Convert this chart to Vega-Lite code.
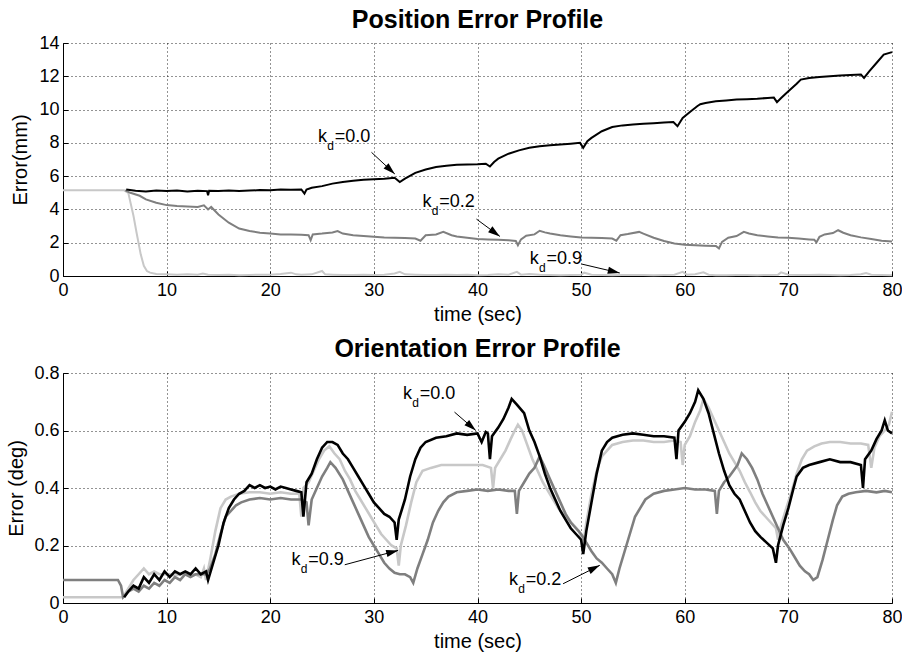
{
"$schema": "https://vega.github.io/schema/vega-lite/v6.json",
"padding": {"left": 6, "top": 8, "right": 10, "bottom": 2},
"background": "white",
"config": {
  "font": "Liberation Sans",
  "view": {"stroke": null},
  "axis": {"domainColor": "#000", "domainWidth": 1, "tickColor": "#000", "tickSize": -5, "labelColor": "#000", "labelFontSize": 18, "titleColor": "#000", "titleFontSize": 20, "titleFontWeight": "normal", "gridColor": "#000", "gridDash": [1, 3], "gridOpacity": 0.85, "gridWidth": 1, "labelFlush": false, "labelOverlap": false},
  "axisX": {"labelPadding": 10, "titlePadding": 5},
  "axisY": {"labelPadding": 9},
  "title": {"fontSize": 25, "fontWeight": "bold", "color": "#000", "baseline": "alphabetic", "frame": "group", "anchor": "middle"}
},
"datasets": {
  "pos": [
{"k":"0.0","t":6.1,"e":5.2},{"k":"0.0","t":7,"e":5.12},{"k":"0.0","t":8,"e":5.08},{"k":"0.0","t":9,"e":5.14},{"k":"0.0","t":10,"e":5.1},{"k":"0.0","t":11,"e":5.13},{"k":"0.0","t":12,"e":5.08},{"k":"0.0","t":13,"e":5.12},{"k":"0.0","t":13.9,"e":5.1},{"k":"0.0","t":14.0,"e":4.85},{"k":"0.0","t":14.1,"e":5.12},{"k":"0.0","t":15,"e":5.1},{"k":"0.0","t":16,"e":5.14},{"k":"0.0","t":17,"e":5.1},{"k":"0.0","t":18,"e":5.13},{"k":"0.0","t":19,"e":5.16},{"k":"0.0","t":20,"e":5.15},{"k":"0.0","t":21,"e":5.2},{"k":"0.0","t":22,"e":5.18},{"k":"0.0","t":23,"e":5.2},{"k":"0.0","t":23.3,"e":4.95},{"k":"0.0","t":23.5,"e":5.2},{"k":"0.0","t":24,"e":5.3},{"k":"0.0","t":25,"e":5.4},{"k":"0.0","t":26,"e":5.55},{"k":"0.0","t":27,"e":5.65},{"k":"0.0","t":28,"e":5.72},{"k":"0.0","t":29,"e":5.78},{"k":"0.0","t":30,"e":5.82},{"k":"0.0","t":31,"e":5.85},{"k":"0.0","t":32,"e":5.9},{"k":"0.0","t":32.5,"e":5.65},{"k":"0.0","t":33,"e":5.85},{"k":"0.0","t":34,"e":6.2},{"k":"0.0","t":35,"e":6.4},{"k":"0.0","t":36,"e":6.55},{"k":"0.0","t":37,"e":6.62},{"k":"0.0","t":38,"e":6.68},{"k":"0.0","t":39,"e":6.7},{"k":"0.0","t":40,"e":6.72},{"k":"0.0","t":40.8,"e":6.75},{"k":"0.0","t":41.2,"e":6.58},{"k":"0.0","t":41.6,"e":6.85},{"k":"0.0","t":42,"e":7.05},{"k":"0.0","t":43,"e":7.35},{"k":"0.0","t":44,"e":7.55},{"k":"0.0","t":45,"e":7.7},{"k":"0.0","t":46,"e":7.8},{"k":"0.0","t":47,"e":7.85},{"k":"0.0","t":48,"e":7.9},{"k":"0.0","t":49,"e":7.95},{"k":"0.0","t":49.9,"e":8.0},{"k":"0.0","t":50.2,"e":7.7},{"k":"0.0","t":50.6,"e":8.1},{"k":"0.0","t":51,"e":8.3},{"k":"0.0","t":52,"e":8.7},{"k":"0.0","t":53,"e":8.95},{"k":"0.0","t":54,"e":9.05},{"k":"0.0","t":55,"e":9.1},{"k":"0.0","t":56,"e":9.15},{"k":"0.0","t":57,"e":9.18},{"k":"0.0","t":58,"e":9.22},{"k":"0.0","t":58.9,"e":9.25},{"k":"0.0","t":59.3,"e":9.0},{"k":"0.0","t":59.8,"e":9.5},{"k":"0.0","t":60.5,"e":9.85},{"k":"0.0","t":61.2,"e":10.2},{"k":"0.0","t":61.5,"e":10.32},{"k":"0.0","t":62,"e":10.4},{"k":"0.0","t":63,"e":10.5},{"k":"0.0","t":64,"e":10.55},{"k":"0.0","t":65,"e":10.6},{"k":"0.0","t":66,"e":10.62},{"k":"0.0","t":67,"e":10.65},{"k":"0.0","t":68,"e":10.7},{"k":"0.0","t":68.6,"e":10.72},{"k":"0.0","t":68.9,"e":10.45},{"k":"0.0","t":69.3,"e":10.7},{"k":"0.0","t":70,"e":11.1},{"k":"0.0","t":70.8,"e":11.55},{"k":"0.0","t":71.2,"e":11.8},{"k":"0.0","t":72,"e":11.9},{"k":"0.0","t":73,"e":11.95},{"k":"0.0","t":74,"e":12.0},{"k":"0.0","t":75,"e":12.05},{"k":"0.0","t":76,"e":12.08},{"k":"0.0","t":77,"e":12.1},{"k":"0.0","t":77.3,"e":11.9},{"k":"0.0","t":77.8,"e":12.3},{"k":"0.0","t":78.5,"e":12.8},{"k":"0.0","t":79.2,"e":13.3},{"k":"0.0","t":80,"e":13.45},
{"k":"0.2","t":6.0,"e":5.15},{"k":"0.2","t":6.5,"e":5.0},{"k":"0.2","t":7.4,"e":4.82},{"k":"0.2","t":8,"e":4.6},{"k":"0.2","t":9,"e":4.4},{"k":"0.2","t":10,"e":4.26},{"k":"0.2","t":11,"e":4.2},{"k":"0.2","t":12,"e":4.18},{"k":"0.2","t":13,"e":4.15},{"k":"0.2","t":13.6,"e":4.25},{"k":"0.2","t":14,"e":4.0},{"k":"0.2","t":14.3,"e":4.15},{"k":"0.2","t":15,"e":3.7},{"k":"0.2","t":16,"e":3.2},{"k":"0.2","t":17,"e":2.85},{"k":"0.2","t":18,"e":2.7},{"k":"0.2","t":19,"e":2.6},{"k":"0.2","t":20,"e":2.55},{"k":"0.2","t":21,"e":2.5},{"k":"0.2","t":22,"e":2.5},{"k":"0.2","t":23,"e":2.48},{"k":"0.2","t":23.7,"e":2.45},{"k":"0.2","t":23.9,"e":2.15},{"k":"0.2","t":24.1,"e":2.5},{"k":"0.2","t":25,"e":2.55},{"k":"0.2","t":26,"e":2.62},{"k":"0.2","t":26.5,"e":2.7},{"k":"0.2","t":27,"e":2.55},{"k":"0.2","t":28,"e":2.45},{"k":"0.2","t":29,"e":2.4},{"k":"0.2","t":30,"e":2.36},{"k":"0.2","t":31,"e":2.32},{"k":"0.2","t":32,"e":2.3},{"k":"0.2","t":33,"e":2.28},{"k":"0.2","t":34,"e":2.25},{"k":"0.2","t":34.5,"e":2.12},{"k":"0.2","t":35,"e":2.45},{"k":"0.2","t":36,"e":2.5},{"k":"0.2","t":36.7,"e":2.65},{"k":"0.2","t":37.5,"e":2.45},{"k":"0.2","t":38,"e":2.38},{"k":"0.2","t":39,"e":2.3},{"k":"0.2","t":40,"e":2.22},{"k":"0.2","t":41,"e":2.2},{"k":"0.2","t":42,"e":2.18},{"k":"0.2","t":43,"e":2.15},{"k":"0.2","t":43.7,"e":2.1},{"k":"0.2","t":43.9,"e":1.85},{"k":"0.2","t":44.2,"e":2.2},{"k":"0.2","t":44.7,"e":2.42},{"k":"0.2","t":45.5,"e":2.5},{"k":"0.2","t":46,"e":2.72},{"k":"0.2","t":46.5,"e":2.62},{"k":"0.2","t":47,"e":2.55},{"k":"0.2","t":48,"e":2.45},{"k":"0.2","t":49,"e":2.38},{"k":"0.2","t":50,"e":2.32},{"k":"0.2","t":51,"e":2.3},{"k":"0.2","t":52,"e":2.28},{"k":"0.2","t":53,"e":2.25},{"k":"0.2","t":53.4,"e":2.12},{"k":"0.2","t":53.8,"e":2.45},{"k":"0.2","t":54.5,"e":2.52},{"k":"0.2","t":55.6,"e":2.65},{"k":"0.2","t":56,"e":2.55},{"k":"0.2","t":57,"e":2.3},{"k":"0.2","t":58,"e":2.1},{"k":"0.2","t":59,"e":1.95},{"k":"0.2","t":60,"e":1.88},{"k":"0.2","t":61,"e":1.85},{"k":"0.2","t":62,"e":1.82},{"k":"0.2","t":63,"e":1.8},{"k":"0.2","t":63.3,"e":1.66},{"k":"0.2","t":63.6,"e":2.05},{"k":"0.2","t":64.2,"e":2.3},{"k":"0.2","t":65,"e":2.4},{"k":"0.2","t":65.7,"e":2.65},{"k":"0.2","t":66.2,"e":2.55},{"k":"0.2","t":67,"e":2.45},{"k":"0.2","t":68,"e":2.38},{"k":"0.2","t":69,"e":2.32},{"k":"0.2","t":70,"e":2.3},{"k":"0.2","t":71,"e":2.25},{"k":"0.2","t":72,"e":2.2},{"k":"0.2","t":72.5,"e":2.18},{"k":"0.2","t":72.7,"e":2.02},{"k":"0.2","t":73,"e":2.35},{"k":"0.2","t":73.5,"e":2.5},{"k":"0.2","t":74.3,"e":2.58},{"k":"0.2","t":74.8,"e":2.75},{"k":"0.2","t":75.3,"e":2.6},{"k":"0.2","t":76,"e":2.45},{"k":"0.2","t":77,"e":2.32},{"k":"0.2","t":78,"e":2.22},{"k":"0.2","t":79,"e":2.12},{"k":"0.2","t":80,"e":2.08},
{"k":"0.9","t":0,"e":5.15},{"k":"0.9","t":5.9,"e":5.15},{"k":"0.9","t":6.3,"e":5.0},{"k":"0.9","t":6.8,"e":3.62},{"k":"0.9","t":7.1,"e":2.6},{"k":"0.9","t":7.5,"e":1.3},{"k":"0.9","t":7.8,"e":0.61},{"k":"0.9","t":8.1,"e":0.3},{"k":"0.9","t":8.4,"e":0.2},{"k":"0.9","t":9,"e":0.12},{"k":"0.9","t":10,"e":0.1},{"k":"0.9","t":11,"e":0.08},{"k":"0.9","t":12,"e":0.1},{"k":"0.9","t":13,"e":0.08},{"k":"0.9","t":13.5,"e":0.15},{"k":"0.9","t":14,"e":0.08},{"k":"0.9","t":15,"e":0.06},{"k":"0.9","t":16,"e":0.08},{"k":"0.9","t":17,"e":0.05},{"k":"0.9","t":18,"e":0.06},{"k":"0.9","t":19,"e":0.08},{"k":"0.9","t":20,"e":0.08},{"k":"0.9","t":21,"e":0.12},{"k":"0.9","t":22,"e":0.2},{"k":"0.9","t":22.5,"e":0.1},{"k":"0.9","t":23,"e":0.08},{"k":"0.9","t":24,"e":0.1},{"k":"0.9","t":25,"e":0.3},{"k":"0.9","t":25.3,"e":0.1},{"k":"0.9","t":26,"e":0.08},{"k":"0.9","t":27,"e":0.06},{"k":"0.9","t":28,"e":0.06},{"k":"0.9","t":29,"e":0.08},{"k":"0.9","t":30,"e":0.06},{"k":"0.9","t":31,"e":0.08},{"k":"0.9","t":32,"e":0.15},{"k":"0.9","t":32.5,"e":0.25},{"k":"0.9","t":33,"e":0.1},{"k":"0.9","t":34,"e":0.08},{"k":"0.9","t":35,"e":0.06},{"k":"0.9","t":36,"e":0.06},{"k":"0.9","t":37,"e":0.08},{"k":"0.9","t":38,"e":0.06},{"k":"0.9","t":39,"e":0.08},{"k":"0.9","t":40,"e":0.05},{"k":"0.9","t":41,"e":0.06},{"k":"0.9","t":42,"e":0.1},{"k":"0.9","t":43,"e":0.08},{"k":"0.9","t":43.8,"e":0.25},{"k":"0.9","t":44.2,"e":0.08},{"k":"0.9","t":45,"e":0.12},{"k":"0.9","t":46,"e":0.08},{"k":"0.9","t":47,"e":0.06},{"k":"0.9","t":48,"e":0.05},{"k":"0.9","t":49,"e":0.06},{"k":"0.9","t":50,"e":0.08},{"k":"0.9","t":50.3,"e":0.2},{"k":"0.9","t":51,"e":0.08},{"k":"0.9","t":52,"e":0.06},{"k":"0.9","t":53,"e":0.05},{"k":"0.9","t":54,"e":0.06},{"k":"0.9","t":55,"e":0.06},{"k":"0.9","t":56,"e":0.06},{"k":"0.9","t":57,"e":0.05},{"k":"0.9","t":58,"e":0.06},{"k":"0.9","t":59,"e":0.08},{"k":"0.9","t":59.8,"e":0.25},{"k":"0.9","t":60.2,"e":0.08},{"k":"0.9","t":61,"e":0.1},{"k":"0.9","t":61.8,"e":0.22},{"k":"0.9","t":62.3,"e":0.08},{"k":"0.9","t":63,"e":0.05},{"k":"0.9","t":64,"e":0.05},{"k":"0.9","t":65,"e":0.06},{"k":"0.9","t":66,"e":0.06},{"k":"0.9","t":67,"e":0.05},{"k":"0.9","t":68,"e":0.06},{"k":"0.9","t":69,"e":0.08},{"k":"0.9","t":69.3,"e":0.22},{"k":"0.9","t":70,"e":0.08},{"k":"0.9","t":71,"e":0.06},{"k":"0.9","t":72,"e":0.06},{"k":"0.9","t":73,"e":0.08},{"k":"0.9","t":74,"e":0.06},{"k":"0.9","t":75,"e":0.05},{"k":"0.9","t":76,"e":0.06},{"k":"0.9","t":77,"e":0.1},{"k":"0.9","t":77.5,"e":0.18},{"k":"0.9","t":78,"e":0.08},{"k":"0.9","t":79,"e":0.06},{"k":"0.9","t":80,"e":0.05}
  ],
  "ori": [
{"k":"0.0","t":5.9,"e":0.02},{"k":"0.0","t":6.3,"e":0.04},{"k":"0.0","t":6.8,"e":0.06},{"k":"0.0","t":7.3,"e":0.05},{"k":"0.0","t":7.8,"e":0.09},{"k":"0.0","t":8.3,"e":0.07},{"k":"0.0","t":8.8,"e":0.1},{"k":"0.0","t":9.3,"e":0.08},{"k":"0.0","t":9.8,"e":0.11},{"k":"0.0","t":10.3,"e":0.09},{"k":"0.0","t":10.8,"e":0.11},{"k":"0.0","t":11.3,"e":0.1},{"k":"0.0","t":11.8,"e":0.11},{"k":"0.0","t":12.3,"e":0.1},{"k":"0.0","t":12.8,"e":0.12},{"k":"0.0","t":13.3,"e":0.1},{"k":"0.0","t":13.8,"e":0.11},{"k":"0.0","t":14.0,"e":0.08},{"k":"0.0","t":14.5,"e":0.14},{"k":"0.0","t":15,"e":0.2},{"k":"0.0","t":15.5,"e":0.28},{"k":"0.0","t":16,"e":0.33},{"k":"0.0","t":16.5,"e":0.36},{"k":"0.0","t":17,"e":0.38},{"k":"0.0","t":17.5,"e":0.39},{"k":"0.0","t":18,"e":0.41},{"k":"0.0","t":18.5,"e":0.4},{"k":"0.0","t":19,"e":0.41},{"k":"0.0","t":19.5,"e":0.4},{"k":"0.0","t":20,"e":0.405},{"k":"0.0","t":20.5,"e":0.395},{"k":"0.0","t":21,"e":0.405},{"k":"0.0","t":21.5,"e":0.4},{"k":"0.0","t":22,"e":0.395},{"k":"0.0","t":22.5,"e":0.39},{"k":"0.0","t":23,"e":0.385},{"k":"0.0","t":23.2,"e":0.3},{"k":"0.0","t":23.5,"e":0.42},{"k":"0.0","t":24,"e":0.45},{"k":"0.0","t":24.5,"e":0.5},{"k":"0.0","t":25,"e":0.54},{"k":"0.0","t":25.5,"e":0.56},{"k":"0.0","t":26,"e":0.56},{"k":"0.0","t":26.5,"e":0.55},{"k":"0.0","t":27,"e":0.52},{"k":"0.0","t":27.5,"e":0.5},{"k":"0.0","t":28,"e":0.47},{"k":"0.0","t":28.5,"e":0.44},{"k":"0.0","t":29,"e":0.41},{"k":"0.0","t":29.5,"e":0.38},{"k":"0.0","t":30,"e":0.35},{"k":"0.0","t":30.5,"e":0.33},{"k":"0.0","t":31,"e":0.31},{"k":"0.0","t":31.5,"e":0.3},{"k":"0.0","t":32,"e":0.28},{"k":"0.0","t":32.2,"e":0.22},{"k":"0.0","t":32.4,"e":0.29},{"k":"0.0","t":33,"e":0.36},{"k":"0.0","t":33.5,"e":0.44},{"k":"0.0","t":34,"e":0.5},{"k":"0.0","t":34.5,"e":0.54},{"k":"0.0","t":35,"e":0.56},{"k":"0.0","t":36,"e":0.575},{"k":"0.0","t":37,"e":0.58},{"k":"0.0","t":38,"e":0.59},{"k":"0.0","t":39,"e":0.585},{"k":"0.0","t":40,"e":0.59},{"k":"0.0","t":40.4,"e":0.56},{"k":"0.0","t":40.8,"e":0.595},{"k":"0.0","t":41.0,"e":0.59},{"k":"0.0","t":41.2,"e":0.5},{"k":"0.0","t":41.4,"e":0.58},{"k":"0.0","t":42,"e":0.61},{"k":"0.0","t":42.5,"e":0.64},{"k":"0.0","t":43,"e":0.68},{"k":"0.0","t":43.3,"e":0.71},{"k":"0.0","t":43.8,"e":0.69},{"k":"0.0","t":44.5,"e":0.66},{"k":"0.0","t":45,"e":0.6},{"k":"0.0","t":45.5,"e":0.56},{"k":"0.0","t":46,"e":0.51},{"k":"0.0","t":46.5,"e":0.45},{"k":"0.0","t":47,"e":0.4},{"k":"0.0","t":47.5,"e":0.36},{"k":"0.0","t":48,"e":0.32},{"k":"0.0","t":48.5,"e":0.29},{"k":"0.0","t":49,"e":0.26},{"k":"0.0","t":49.5,"e":0.24},{"k":"0.0","t":50,"e":0.22},{"k":"0.0","t":50.2,"e":0.17},{"k":"0.0","t":50.5,"e":0.25},{"k":"0.0","t":51,"e":0.35},{"k":"0.0","t":51.5,"e":0.45},{"k":"0.0","t":52,"e":0.53},{"k":"0.0","t":52.5,"e":0.56},{"k":"0.0","t":53,"e":0.575},{"k":"0.0","t":54,"e":0.585},{"k":"0.0","t":55,"e":0.59},{"k":"0.0","t":56,"e":0.585},{"k":"0.0","t":57,"e":0.58},{"k":"0.0","t":58,"e":0.58},{"k":"0.0","t":59,"e":0.575},{"k":"0.0","t":59.2,"e":0.5},{"k":"0.0","t":59.4,"e":0.6},{"k":"0.0","t":60,"e":0.63},{"k":"0.0","t":60.5,"e":0.66},{"k":"0.0","t":61,"e":0.7},{"k":"0.0","t":61.3,"e":0.74},{"k":"0.0","t":61.8,"e":0.71},{"k":"0.0","t":62.3,"e":0.66},{"k":"0.0","t":62.8,"e":0.59},{"k":"0.0","t":63.3,"e":0.52},{"k":"0.0","t":63.8,"e":0.46},{"k":"0.0","t":64.3,"e":0.41},{"k":"0.0","t":64.8,"e":0.38},{"k":"0.0","t":65.3,"e":0.36},{"k":"0.0","t":65.8,"e":0.32},{"k":"0.0","t":66.3,"e":0.28},{"k":"0.0","t":66.8,"e":0.25},{"k":"0.0","t":67.3,"e":0.23},{"k":"0.0","t":67.9,"e":0.21},{"k":"0.0","t":68.5,"e":0.19},{"k":"0.0","t":68.8,"e":0.14},{"k":"0.0","t":69.0,"e":0.2},{"k":"0.0","t":69.5,"e":0.27},{"k":"0.0","t":70,"e":0.33},{"k":"0.0","t":70.5,"e":0.4},{"k":"0.0","t":70.8,"e":0.44},{"k":"0.0","t":71.4,"e":0.47},{"k":"0.0","t":72,"e":0.48},{"k":"0.0","t":73,"e":0.49},{"k":"0.0","t":74,"e":0.5},{"k":"0.0","t":75,"e":0.49},{"k":"0.0","t":76,"e":0.49},{"k":"0.0","t":77,"e":0.48},{"k":"0.0","t":77.2,"e":0.4},{"k":"0.0","t":77.4,"e":0.5},{"k":"0.0","t":78,"e":0.53},{"k":"0.0","t":78.5,"e":0.57},{"k":"0.0","t":79,"e":0.6},{"k":"0.0","t":79.3,"e":0.635},{"k":"0.0","t":79.6,"e":0.6},{"k":"0.0","t":80,"e":0.59},
{"k":"0.2","t":0,"e":0.08},{"k":"0.2","t":5.3,"e":0.08},{"k":"0.2","t":5.6,"e":0.06},{"k":"0.2","t":5.8,"e":0.02},{"k":"0.2","t":6.3,"e":0.04},{"k":"0.2","t":6.8,"e":0.05},{"k":"0.2","t":7.3,"e":0.04},{"k":"0.2","t":7.8,"e":0.06},{"k":"0.2","t":8.3,"e":0.05},{"k":"0.2","t":8.8,"e":0.07},{"k":"0.2","t":9.3,"e":0.06},{"k":"0.2","t":9.8,"e":0.08},{"k":"0.2","t":10.3,"e":0.07},{"k":"0.2","t":10.8,"e":0.09},{"k":"0.2","t":11.3,"e":0.08},{"k":"0.2","t":11.8,"e":0.1},{"k":"0.2","t":12.3,"e":0.09},{"k":"0.2","t":12.8,"e":0.1},{"k":"0.2","t":13.3,"e":0.1},{"k":"0.2","t":13.8,"e":0.1},{"k":"0.2","t":14.2,"e":0.12},{"k":"0.2","t":14.7,"e":0.17},{"k":"0.2","t":15.2,"e":0.24},{"k":"0.2","t":15.7,"e":0.3},{"k":"0.2","t":16.2,"e":0.32},{"k":"0.2","t":16.7,"e":0.34},{"k":"0.2","t":17.2,"e":0.35},{"k":"0.2","t":18,"e":0.36},{"k":"0.2","t":19,"e":0.365},{"k":"0.2","t":20,"e":0.36},{"k":"0.2","t":21,"e":0.365},{"k":"0.2","t":22,"e":0.36},{"k":"0.2","t":23,"e":0.36},{"k":"0.2","t":23.5,"e":0.35},{"k":"0.2","t":23.7,"e":0.27},{"k":"0.2","t":24,"e":0.36},{"k":"0.2","t":24.5,"e":0.4},{"k":"0.2","t":25,"e":0.44},{"k":"0.2","t":25.5,"e":0.47},{"k":"0.2","t":25.8,"e":0.49},{"k":"0.2","t":26.3,"e":0.47},{"k":"0.2","t":27,"e":0.43},{"k":"0.2","t":27.5,"e":0.39},{"k":"0.2","t":28,"e":0.35},{"k":"0.2","t":28.5,"e":0.31},{"k":"0.2","t":29,"e":0.27},{"k":"0.2","t":29.5,"e":0.23},{"k":"0.2","t":30,"e":0.2},{"k":"0.2","t":30.5,"e":0.17},{"k":"0.2","t":31,"e":0.14},{"k":"0.2","t":31.5,"e":0.12},{"k":"0.2","t":32,"e":0.105},{"k":"0.2","t":32.5,"e":0.1},{"k":"0.2","t":33,"e":0.1},{"k":"0.2","t":33.5,"e":0.09},{"k":"0.2","t":33.8,"e":0.07},{"k":"0.2","t":34.2,"e":0.12},{"k":"0.2","t":34.7,"e":0.17},{"k":"0.2","t":35.2,"e":0.22},{"k":"0.2","t":35.7,"e":0.28},{"k":"0.2","t":36.2,"e":0.32},{"k":"0.2","t":36.7,"e":0.35},{"k":"0.2","t":37.2,"e":0.37},{"k":"0.2","t":38,"e":0.385},{"k":"0.2","t":39,"e":0.39},{"k":"0.2","t":40,"e":0.395},{"k":"0.2","t":41,"e":0.39},{"k":"0.2","t":42,"e":0.395},{"k":"0.2","t":43,"e":0.39},{"k":"0.2","t":43.6,"e":0.39},{"k":"0.2","t":43.8,"e":0.31},{"k":"0.2","t":44.0,"e":0.39},{"k":"0.2","t":44.5,"e":0.42},{"k":"0.2","t":45,"e":0.45},{"k":"0.2","t":45.5,"e":0.47},{"k":"0.2","t":46,"e":0.51},{"k":"0.2","t":46.4,"e":0.48},{"k":"0.2","t":47,"e":0.43},{"k":"0.2","t":47.5,"e":0.39},{"k":"0.2","t":48,"e":0.35},{"k":"0.2","t":48.5,"e":0.31},{"k":"0.2","t":49,"e":0.28},{"k":"0.2","t":49.5,"e":0.26},{"k":"0.2","t":50,"e":0.24},{"k":"0.2","t":50.5,"e":0.21},{"k":"0.2","t":51,"e":0.18},{"k":"0.2","t":51.5,"e":0.155},{"k":"0.2","t":52,"e":0.14},{"k":"0.2","t":52.5,"e":0.12},{"k":"0.2","t":53,"e":0.1},{"k":"0.2","t":53.35,"e":0.07},{"k":"0.2","t":53.7,"e":0.12},{"k":"0.2","t":54.2,"e":0.18},{"k":"0.2","t":54.7,"e":0.24},{"k":"0.2","t":55.2,"e":0.3},{"k":"0.2","t":55.7,"e":0.33},{"k":"0.2","t":56.2,"e":0.36},{"k":"0.2","t":57,"e":0.38},{"k":"0.2","t":58,"e":0.39},{"k":"0.2","t":59,"e":0.395},{"k":"0.2","t":60,"e":0.4},{"k":"0.2","t":61,"e":0.395},{"k":"0.2","t":62,"e":0.395},{"k":"0.2","t":62.9,"e":0.39},{"k":"0.2","t":63.1,"e":0.31},{"k":"0.2","t":63.3,"e":0.39},{"k":"0.2","t":63.8,"e":0.42},{"k":"0.2","t":64.3,"e":0.44},{"k":"0.2","t":64.7,"e":0.46},{"k":"0.2","t":65.1,"e":0.48},{"k":"0.2","t":65.5,"e":0.52},{"k":"0.2","t":66,"e":0.5},{"k":"0.2","t":66.5,"e":0.47},{"k":"0.2","t":67,"e":0.43},{"k":"0.2","t":67.5,"e":0.38},{"k":"0.2","t":68,"e":0.34},{"k":"0.2","t":68.5,"e":0.3},{"k":"0.2","t":69,"e":0.26},{"k":"0.2","t":69.5,"e":0.22},{"k":"0.2","t":70.1,"e":0.19},{"k":"0.2","t":70.6,"e":0.16},{"k":"0.2","t":71.1,"e":0.13},{"k":"0.2","t":71.6,"e":0.11},{"k":"0.2","t":72,"e":0.1},{"k":"0.2","t":72.4,"e":0.08},{"k":"0.2","t":72.8,"e":0.09},{"k":"0.2","t":73.3,"e":0.15},{"k":"0.2","t":73.8,"e":0.22},{"k":"0.2","t":74.3,"e":0.29},{"k":"0.2","t":74.7,"e":0.34},{"k":"0.2","t":75.2,"e":0.37},{"k":"0.2","t":75.8,"e":0.38},{"k":"0.2","t":76.5,"e":0.385},{"k":"0.2","t":77.5,"e":0.39},{"k":"0.2","t":78.5,"e":0.385},{"k":"0.2","t":79.3,"e":0.39},{"k":"0.2","t":80,"e":0.385},
{"k":"0.9","t":0,"e":0.02},{"k":"0.9","t":5.8,"e":0.02},{"k":"0.9","t":6.3,"e":0.05},{"k":"0.9","t":6.8,"e":0.08},{"k":"0.9","t":7.3,"e":0.1},{"k":"0.9","t":7.8,"e":0.12},{"k":"0.9","t":8.3,"e":0.1},{"k":"0.9","t":8.8,"e":0.11},{"k":"0.9","t":9.3,"e":0.1},{"k":"0.9","t":9.8,"e":0.1},{"k":"0.9","t":10.3,"e":0.1},{"k":"0.9","t":10.8,"e":0.095},{"k":"0.9","t":11.3,"e":0.1},{"k":"0.9","t":11.8,"e":0.1},{"k":"0.9","t":12.3,"e":0.1},{"k":"0.9","t":12.8,"e":0.1},{"k":"0.9","t":13.3,"e":0.09},{"k":"0.9","t":13.6,"e":0.12},{"k":"0.9","t":13.8,"e":0.08},{"k":"0.9","t":14.2,"e":0.15},{"k":"0.9","t":14.7,"e":0.25},{"k":"0.9","t":15.2,"e":0.33},{"k":"0.9","t":15.7,"e":0.36},{"k":"0.9","t":16.2,"e":0.37},{"k":"0.9","t":17,"e":0.38},{"k":"0.9","t":18,"e":0.385},{"k":"0.9","t":19,"e":0.385},{"k":"0.9","t":20,"e":0.38},{"k":"0.9","t":21,"e":0.385},{"k":"0.9","t":22,"e":0.38},{"k":"0.9","t":22.8,"e":0.38},{"k":"0.9","t":23.0,"e":0.3},{"k":"0.9","t":23.2,"e":0.4},{"k":"0.9","t":23.7,"e":0.42},{"k":"0.9","t":24.2,"e":0.46},{"k":"0.9","t":24.7,"e":0.5},{"k":"0.9","t":25.2,"e":0.53},{"k":"0.9","t":25.7,"e":0.545},{"k":"0.9","t":26.2,"e":0.52},{"k":"0.9","t":26.7,"e":0.5},{"k":"0.9","t":27.2,"e":0.46},{"k":"0.9","t":27.7,"e":0.43},{"k":"0.9","t":28.2,"e":0.39},{"k":"0.9","t":28.7,"e":0.36},{"k":"0.9","t":29.2,"e":0.33},{"k":"0.9","t":29.7,"e":0.3},{"k":"0.9","t":30.2,"e":0.27},{"k":"0.9","t":30.7,"e":0.24},{"k":"0.9","t":31.2,"e":0.22},{"k":"0.9","t":31.7,"e":0.2},{"k":"0.9","t":32.2,"e":0.19},{"k":"0.9","t":32.4,"e":0.13},{"k":"0.9","t":32.6,"e":0.2},{"k":"0.9","t":33.1,"e":0.27},{"k":"0.9","t":33.6,"e":0.35},{"k":"0.9","t":34.1,"e":0.42},{"k":"0.9","t":34.7,"e":0.46},{"k":"0.9","t":35.5,"e":0.47},{"k":"0.9","t":36.5,"e":0.48},{"k":"0.9","t":37.5,"e":0.48},{"k":"0.9","t":38.5,"e":0.48},{"k":"0.9","t":39.5,"e":0.48},{"k":"0.9","t":40.5,"e":0.48},{"k":"0.9","t":41.3,"e":0.47},{"k":"0.9","t":41.5,"e":0.4},{"k":"0.9","t":41.7,"e":0.47},{"k":"0.9","t":42.2,"e":0.5},{"k":"0.9","t":42.7,"e":0.53},{"k":"0.9","t":43.2,"e":0.57},{"k":"0.9","t":43.6,"e":0.6},{"k":"0.9","t":43.9,"e":0.62},{"k":"0.9","t":44.3,"e":0.6},{"k":"0.9","t":44.8,"e":0.55},{"k":"0.9","t":45.3,"e":0.5},{"k":"0.9","t":45.8,"e":0.46},{"k":"0.9","t":46.3,"e":0.42},{"k":"0.9","t":46.8,"e":0.39},{"k":"0.9","t":47.3,"e":0.36},{"k":"0.9","t":47.8,"e":0.33},{"k":"0.9","t":48.3,"e":0.31},{"k":"0.9","t":48.8,"e":0.29},{"k":"0.9","t":49.3,"e":0.27},{"k":"0.9","t":49.8,"e":0.25},{"k":"0.9","t":50.2,"e":0.2},{"k":"0.9","t":50.5,"e":0.28},{"k":"0.9","t":51,"e":0.38},{"k":"0.9","t":51.5,"e":0.46},{"k":"0.9","t":52,"e":0.51},{"k":"0.9","t":52.5,"e":0.53},{"k":"0.9","t":53,"e":0.55},{"k":"0.9","t":54,"e":0.56},{"k":"0.9","t":55,"e":0.565},{"k":"0.9","t":56,"e":0.565},{"k":"0.9","t":57,"e":0.56},{"k":"0.9","t":58,"e":0.56},{"k":"0.9","t":59,"e":0.565},{"k":"0.9","t":59.6,"e":0.56},{"k":"0.9","t":59.8,"e":0.48},{"k":"0.9","t":60,"e":0.55},{"k":"0.9","t":60.5,"e":0.58},{"k":"0.9","t":61,"e":0.63},{"k":"0.9","t":61.5,"e":0.67},{"k":"0.9","t":61.8,"e":0.71},{"k":"0.9","t":62.3,"e":0.68},{"k":"0.9","t":62.8,"e":0.64},{"k":"0.9","t":63.3,"e":0.6},{"k":"0.9","t":63.8,"e":0.56},{"k":"0.9","t":64.3,"e":0.52},{"k":"0.9","t":64.8,"e":0.49},{"k":"0.9","t":65.3,"e":0.46},{"k":"0.9","t":65.8,"e":0.42},{"k":"0.9","t":66.3,"e":0.386},{"k":"0.9","t":66.8,"e":0.35},{"k":"0.9","t":67.3,"e":0.32},{"k":"0.9","t":67.8,"e":0.3},{"k":"0.9","t":68.3,"e":0.28},{"k":"0.9","t":68.8,"e":0.26},{"k":"0.9","t":69,"e":0.22},{"k":"0.9","t":69.3,"e":0.27},{"k":"0.9","t":69.8,"e":0.33},{"k":"0.9","t":70.3,"e":0.386},{"k":"0.9","t":70.8,"e":0.45},{"k":"0.9","t":71.3,"e":0.5},{"k":"0.9","t":71.8,"e":0.53},{"k":"0.9","t":72.5,"e":0.545},{"k":"0.9","t":73.2,"e":0.555},{"k":"0.9","t":74,"e":0.56},{"k":"0.9","t":75,"e":0.56},{"k":"0.9","t":76,"e":0.555},{"k":"0.9","t":77,"e":0.555},{"k":"0.9","t":77.7,"e":0.55},{"k":"0.9","t":78.0,"e":0.47},{"k":"0.9","t":78.3,"e":0.54},{"k":"0.9","t":78.8,"e":0.58},{"k":"0.9","t":79.3,"e":0.6},{"k":"0.9","t":79.7,"e":0.62},{"k":"0.9","t":80,"e":0.665}
  ],
  "ann": [
    {"p":"pos","k":"0.0","lab":"=0.0","t":24.61,"e":8.07},
    {"p":"pos","k":"0.2","lab":"=0.2","t":34.69,"e":4.13},
    {"p":"pos","k":"0.9","lab":"=0.9","t":45.05,"e":0.72},
    {"p":"ori","k":"0.0","lab":"=0.0","t":32.82,"e":0.711},
    {"p":"ori","k":"0.9","lab":"=0.9","t":22.05,"e":0.131},
    {"p":"ori","k":"0.2","lab":"=0.2","t":43.05,"e":0.061}
  ],
  "arr": [
    {"p":"pos","k":"0.0","t":32.02,"e":6.13,"t2":29.77,"e2":7.43},
    {"p":"pos","k":"0.2","t":42.16,"e":2.38,"t2":39.9,"e2":3.42},
    {"p":"pos","k":"0.9","t":53.73,"e":0.18,"t2":50.04,"e2":0.72},
    {"p":"ori","k":"0.0","t":39.84,"e":0.6,"t2":37.78,"e2":0.664},
    {"p":"ori","k":"0.9","t":32.34,"e":0.183,"t2":27.19,"e2":0.133},
    {"p":"ori","k":"0.2","t":51.8,"e":0.131,"t2":48.26,"e2":0.067}
  ]
},
"spacing": 97,
"bounds": "flush",
"vconcat": [
  {
    "width": 829, "height": 233,
    "title": {"text": "Position Error Profile", "offset": 1},
    "encoding": {
      "x": {"field": "t", "type": "quantitative", "scale": {"domain": [0, 80], "nice": false, "zero": false}, "axis": {"title": "time (sec)", "values": [0,10,20,30,40,50,60,70,80], "labelOverlap": false}},
      "y": {"field": "e", "type": "quantitative", "scale": {"domain": [0, 14], "nice": false}, "axis": {"title": "Error(mm)", "values": [0,2,4,6,8,10,12,14], "titleX": -33}}
    },
    "layer": [
      {"data": {"name": "pos"}, "transform": [{"filter": "datum.k == '0.9'"}], "mark": {"type": "line", "color": "#c8c8c8", "strokeWidth": 2}},
      {"data": {"name": "pos"}, "transform": [{"filter": "datum.k == '0.2'"}], "mark": {"type": "line", "color": "#7f7f7f", "strokeWidth": 2}},
      {"data": {"name": "pos"}, "transform": [{"filter": "datum.k == '0.0'"}], "mark": {"type": "line", "color": "#000000", "strokeWidth": 2}},
      {"data": {"name": "arr"}, "transform": [{"filter": "datum.p == 'pos'"}], "mark": {"type": "rule", "color": "#000", "strokeWidth": 1}, "encoding": {"x2": {"field": "t2"}, "y2": {"field": "e2"}}},
      {"data": {"name": "arr"}, "transform": [{"filter": "datum.p == 'pos' && datum.k == '0.0'"}], "mark": {"type": "point", "shape": "M0,0 L-1,-0.3 L-1,0.3 Z", "size": 576, "filled": true, "color": "#000", "opacity": 1, "angle": 43}},
      {"data": {"name": "arr"}, "transform": [{"filter": "datum.p == 'pos' && datum.k == '0.2'"}], "mark": {"type": "point", "shape": "M0,0 L-1,-0.3 L-1,0.3 Z", "size": 576, "filled": true, "color": "#000", "opacity": 1, "angle": 36.6}},
      {"data": {"name": "arr"}, "transform": [{"filter": "datum.p == 'pos' && datum.k == '0.9'"}], "mark": {"type": "point", "shape": "M0,0 L-1,-0.3 L-1,0.3 Z", "size": 576, "filled": true, "color": "#000", "opacity": 1, "angle": 13.2}},
      {"data": {"name": "ann"}, "transform": [{"filter": "datum.p == 'pos'"}], "mark": {"type": "text", "text": "k", "align": "left", "baseline": "alphabetic", "fontSize": 18, "color": "#000"}},
      {"data": {"name": "ann"}, "transform": [{"filter": "datum.p == 'pos'"}], "mark": {"type": "text", "text": "d", "align": "left", "baseline": "alphabetic", "fontSize": 12, "dx": 9.2, "dy": 8, "color": "#000"}},
      {"data": {"name": "ann"}, "transform": [{"filter": "datum.p == 'pos'"}], "mark": {"type": "text", "align": "left", "baseline": "alphabetic", "fontSize": 18, "dx": 16.7, "color": "#000"}, "encoding": {"text": {"field": "lab"}}}
    ]
  },
  {
    "width": 829, "height": 230,
    "title": {"text": "Orientation Error Profile", "offset": 2},
    "encoding": {
      "x": {"field": "t", "type": "quantitative", "scale": {"domain": [0, 80], "nice": false, "zero": false}, "axis": {"title": "time (sec)", "values": [0,10,20,30,40,50,60,70,80], "labelOverlap": false}},
      "y": {"field": "e", "type": "quantitative", "scale": {"domain": [0, 0.8], "nice": false}, "axis": {"title": "Error (deg)", "values": [0,0.2,0.4,0.6,0.8], "format": "~g", "titleX": -36.6}}
    },
    "layer": [
      {"data": {"name": "ori"}, "transform": [{"filter": "datum.k == '0.9'"}], "mark": {"type": "line", "color": "#c8c8c8", "strokeWidth": 2.6}},
      {"data": {"name": "ori"}, "transform": [{"filter": "datum.k == '0.2'"}], "mark": {"type": "line", "color": "#7f7f7f", "strokeWidth": 2.6}},
      {"data": {"name": "ori"}, "transform": [{"filter": "datum.k == '0.0'"}], "mark": {"type": "line", "color": "#000000", "strokeWidth": 2.6}},
      {"data": {"name": "arr"}, "transform": [{"filter": "datum.p == 'ori'"}], "mark": {"type": "rule", "color": "#000", "strokeWidth": 1}, "encoding": {"x2": {"field": "t2"}, "y2": {"field": "e2"}}},
      {"data": {"name": "arr"}, "transform": [{"filter": "datum.p == 'ori' && datum.k == '0.0'"}], "mark": {"type": "point", "shape": "M0,0 L-1,-0.3 L-1,0.3 Z", "size": 576, "filled": true, "color": "#000", "opacity": 1, "angle": 41.2}},
      {"data": {"name": "arr"}, "transform": [{"filter": "datum.p == 'ori' && datum.k == '0.9'"}], "mark": {"type": "point", "shape": "M0,0 L-1,-0.3 L-1,0.3 Z", "size": 576, "filled": true, "color": "#000", "opacity": 1, "angle": -15}},
      {"data": {"name": "arr"}, "transform": [{"filter": "datum.p == 'ori' && datum.k == '0.2'"}], "mark": {"type": "point", "shape": "M0,0 L-1,-0.3 L-1,0.3 Z", "size": 576, "filled": true, "color": "#000", "opacity": 1, "angle": -26.5}},
      {"data": {"name": "ann"}, "transform": [{"filter": "datum.p == 'ori'"}], "mark": {"type": "text", "text": "k", "align": "left", "baseline": "alphabetic", "fontSize": 18, "color": "#000"}},
      {"data": {"name": "ann"}, "transform": [{"filter": "datum.p == 'ori'"}], "mark": {"type": "text", "text": "d", "align": "left", "baseline": "alphabetic", "fontSize": 12, "dx": 9.2, "dy": 8, "color": "#000"}},
      {"data": {"name": "ann"}, "transform": [{"filter": "datum.p == 'ori'"}], "mark": {"type": "text", "align": "left", "baseline": "alphabetic", "fontSize": 18, "dx": 16.7, "color": "#000"}, "encoding": {"text": {"field": "lab"}}}
    ]
  }
]
}
